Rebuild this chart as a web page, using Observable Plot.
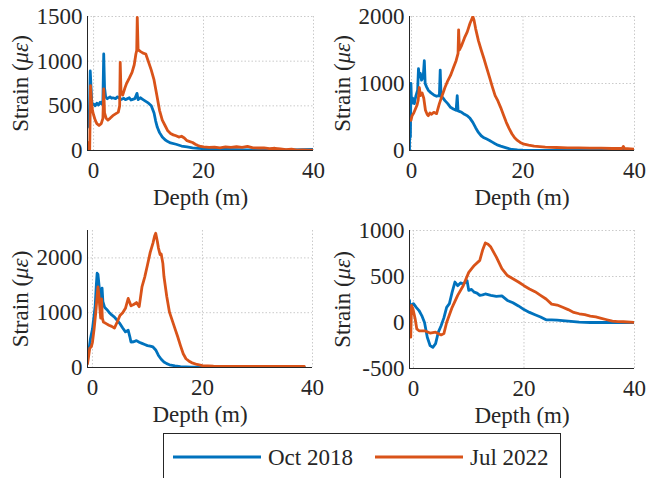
<!DOCTYPE html>
<html><head><meta charset="utf-8">
<script src="https://cdn.jsdelivr.net/npm/d3@7"></script>
<script src="https://cdn.jsdelivr.net/npm/@observablehq/plot@0.6"></script>
<style>
body{margin:0;background:#fff;}
#wrap{position:relative;width:646px;height:478px;overflow:hidden;background:#fff;font-family:"Liberation Serif",serif;}
#wrap > svg{position:absolute;}
#wrap text{font-family:"Liberation Serif",serif;}
</style></head><body><div id="wrap"></div>
<script>
const seriesNames = ["Oct 2018", "Jul 2022"];
const seriesColors = ["#0072BD", "#D95319"];
const xTicks = [0, 20, 40];

// Panel 1 (top-left): [depth m, strain µε]
const p1Oct = [[-1.1,260],[-0.8,300],[-0.6,890],[-0.45,700],[-0.3,510],[0,520],[0.3,500],[0.6,530],[0.9,510],[1.2,540],[1.5,520],[1.7,560],[1.85,1080],[2.0,700],[2.2,600],[2.5,580],[3,600],[3.3,585],[3.5,590],[4,580],[4.3,600],[4.5,595],[5,570],[5.5,585],[5.8,570],[6,575],[6.5,590],[6.8,565],[7,570],[7.5,580],[7.9,640],[8.1,570],[8.5,590],[9,570],[9.5,550],[10,530],[10.5,500],[11,420],[11.3,330],[11.6,260],[12,200],[12.5,150],[13,120],[13.5,100],[14,85],[15,70],[16,50],[17,40],[18,30],[19,25],[20,20],[22,15],[24,12],[26,10],[28,8],[30,8],[32,6],[34,5],[36,8],[38,10],[40,12]];
const p1Jul = [[-1.1,90],[-0.85,20],[-0.7,0],[-0.55,725],[-0.4,560],[-0.2,450],[0,400],[0.3,340],[0.6,300],[1,280],[1.4,300],[1.7,360],[1.85,690],[2.0,420],[2.3,360],[2.6,340],[3,360],[3.5,390],[4,410],[4.5,430],[4.75,500],[4.85,985],[5.0,650],[5.3,620],[5.7,700],[6,750],[6.5,810],[7,875],[7.4,960],[7.7,1080],[7.85,1120],[7.95,1490],[8.1,1130],[8.5,1110],[9,1090],[9.5,1080],[10,990],[10.5,900],[11,790],[11.5,620],[12,450],[12.5,340],[13,280],[13.5,220],[14,190],[14.5,175],[15,165],[15.5,150],[16,160],[16.5,140],[17,110],[17.5,100],[18,90],[18.5,70],[19,55],[19.5,45],[20,40],[21,35],[22,38],[23,30],[24,40],[25,35],[26,42],[27,35],[28,45],[29,30],[30,28],[31,30],[32,22],[33,25],[34,18],[35,10],[36,15],[37,5],[38,8],[39,3],[40,5]];

// Panel 2 (top-right)
const p2Oct = [[-0.36,0],[-0.3,640],[-0.2,200],[-0.1,1000],[0,700],[0.2,780],[0.5,700],[0.8,820],[1.1,900],[1.25,1220],[1.4,1100],[1.6,1150],[1.8,1050],[2.1,1100],[2.3,1340],[2.45,1000],[2.7,950],[3,900],[3.5,860],[4,830],[4.5,810],[5.0,820],[5.15,1200],[5.3,800],[5.6,790],[6,745],[6.5,700],[7,645],[7.5,620],[8,600],[8.2,820],[8.35,590],[8.7,580],[9,570],[9.5,540],[10,520],[10.5,480],[11,420],[11.5,340],[12,270],[12.5,220],[13,190],[13.5,170],[14,150],[14.5,125],[15,100],[15.5,80],[16,65],[17,40],[18,15],[19,8],[20,5],[25,3],[30,2],[35,2],[40,3]];
const p2Jul = [[-0.1,450],[0.1,520],[0.4,560],[0.7,620],[1.0,680],[1.2,750],[1.4,940],[1.6,820],[1.9,860],[2.2,780],[2.5,600],[2.8,540],[3,520],[3.3,560],[3.6,540],[4,570],[4.5,550],[5,700],[5.5,820],[6,940],[6.5,1040],[7,1120],[7.5,1230],[8,1340],[8.35,1450],[8.45,1800],[8.6,1500],[9,1570],[9.5,1680],[10,1770],[10.5,1900],[10.8,1960],[11,2000],[11.2,1950],[11.5,1820],[12,1640],[12.5,1500],[13,1370],[13.5,1230],[14,1090],[14.5,950],[15,820],[15.5,740],[16,640],[16.5,530],[17,420],[17.5,330],[18,250],[18.5,190],[19,150],[19.5,120],[20,100],[21,80],[22,65],[24,50],[26,45],[28,40],[30,38],[32,35],[34,35],[36,30],[37.8,30],[38,60],[38.2,30],[40,20]];

// Panel 3 (bottom-left)
const p3Oct = [[-0.9,190],[-0.6,350],[-0.36,530],[0,700],[0.3,950],[0.5,1130],[0.7,1500],[0.85,1720],[1.0,1700],[1.2,1500],[1.5,1190],[1.65,1300],[1.75,1450],[1.9,1200],[2.2,1100],[2.6,1060],[3,1010],[3.5,960],[4,920],[4.5,860],[5,800],[5.5,720],[6,650],[6.5,680],[6.8,560],[7,465],[7.5,470],[8,490],[8.5,460],[9,440],[9.5,420],[10,400],[10.5,390],[11,375],[11.5,320],[12,220],[12.5,150],[13,100],[13.5,70],[14,50],[15,30],[16,15],[18,8],[20,5],[25,5],[30,5],[35,5],[38.5,5]];
const p3Jul = [[-0.9,70],[-0.7,200],[-0.5,350],[-0.2,380],[0,460],[0.3,700],[0.6,1000],[0.85,1300],[1.0,1470],[1.15,1350],[1.3,1140],[1.5,900],[1.65,1250],[1.8,900],[2,830],[2.5,800],[3,770],[3.5,750],[4,720],[4.5,830],[5,950],[5.5,1000],[6,1080],[6.5,1260],[7,1125],[7.5,1150],[8,1185],[8.5,1110],[9,1470],[9.5,1650],[10,1870],[10.5,2100],[11,2270],[11.3,2400],[11.5,2450],[11.8,2300],[12,2180],[12.3,2060],[12.5,2070],[12.8,1900],[13,1660],[13.5,1300],[14,1010],[14.5,860],[15,710],[15.5,560],[16,400],[16.5,250],[17,160],[17.5,120],[18,90],[19,55],[20,35],[22,25],[25,22],[30,20],[35,20],[38.5,20]];

// Panel 4 (bottom-right)
const p4Oct = [[-0.72,240],[-0.55,75],[-0.4,190],[0,205],[0.5,165],[1,130],[1.5,75],[2,0],[2.5,-160],[3,-250],[3.5,-270],[4,-230],[4.5,-105],[5,-35],[5.5,50],[6,165],[6.5,205],[7,330],[7.5,440],[8,400],[8.5,430],[9,420],[9.7,455],[10,350],[10.5,360],[11,330],[11.5,320],[12,295],[12.5,300],[13,310],[14,295],[15,285],[16,290],[17,240],[18,215],[19,180],[20,140],[21,110],[22,85],[23,60],[24,30],[25,28],[26,25],[28,15],[30,5],[32,0],[35,0],[38,0],[40,0]];
const p4Jul = [[-0.72,-160],[-0.5,-160],[-0.35,185],[-0.1,150],[0.3,40],[0.6,-70],[1,-90],[2,-90],[3,-115],[4,-105],[5,-135],[5.5,-120],[6,0],[7,165],[8,295],[9,400],[10,545],[11,620],[12,675],[12.5,785],[13,865],[13.5,850],[14,820],[15,710],[16,585],[17,510],[18,475],[19,440],[20,400],[21,365],[22,335],[23,295],[24,255],[25,200],[26,190],[27,165],[28,140],[29,110],[30,95],[31,85],[32,70],[33,60],[34,45],[35,30],[36,15],[37,10],[38,8],[40,0]];

const p1YTicks = [0, 500, 1000, 1500];
const p2YTicks = [0, 1000, 2000];
const p3YTicks = [0, 1000, 2000];
const p4YTicks = [-500, 0, 500, 1000];

const panels = [
  {oct: p1Oct, jul: p1Jul, xDomain: [-1.1, 40], yDomain: [0, 1500], yTicks: p1YTicks,
   left: 0, top: 0, w: 323, h: 215, ml: 87, mr: 10, mt: 16, mb: 65},
  {oct: p2Oct, jul: p2Jul, xDomain: [-0.36, 40], yDomain: [0, 2000], yTicks: p2YTicks,
   left: 323, top: 0, w: 323, h: 215, ml: 86, mr: 12, mt: 16, mb: 65},
  {oct: p3Oct, jul: p3Jul, xDomain: [-0.9, 40], yDomain: [0, 2500], yTicks: p3YTicks,
   left: 0, top: 215, w: 323, h: 263, ml: 87, mr: 11, mt: 15, mb: 111},
  {oct: p4Oct, jul: p4Jul, xDomain: [-0.72, 40], yDomain: [-500, 1000], yTicks: p4YTicks,
   left: 323, top: 215, w: 323, h: 263, ml: 86, mr: 12, mt: 15, mb: 110}
];

const wrap = document.getElementById("wrap");
const FONT = "Liberation Serif, serif";
const ink = "#262626";
const gridStyle = {stroke: "#c4c4c4", strokeOpacity: 1, strokeWidth: 0.9, strokeDasharray: "1.5,2"};
const fmt = d => String(d);
const FS = 23;

for (const c of panels) {
  const toRows = (arr) => arr.map(([d, s]) => ({depth: d, strain: s}));
  const svg = Plot.plot({
    width: c.w, height: c.h,
    marginLeft: c.ml, marginRight: c.mr, marginTop: c.mt, marginBottom: c.mb,
    style: {background: "transparent", overflow: "visible", fontFamily: FONT, color: ink},
    x: {domain: c.xDomain},
    y: {domain: c.yDomain},
    marks: [
      Plot.gridX({ticks: xTicks, ...gridStyle}),
      Plot.gridY({ticks: c.yTicks, ...gridStyle}),
      Plot.line(toRows(c.oct), {x: "depth", y: "strain", stroke: seriesColors[0], strokeWidth: 2.8, clip: true}),
      Plot.line(toRows(c.jul), {x: "depth", y: "strain", stroke: seriesColors[1], strokeWidth: 2.8, clip: true}),
      Plot.ruleX([c.xDomain[0]], {stroke: ink, strokeWidth: 1}),
      Plot.ruleY([c.yDomain[0]], {stroke: ink, strokeWidth: 1}),
      Plot.axisX({ticks: xTicks, tickFormat: fmt, tickSize: 0, tickPadding: 11, label: null, fontSize: FS, fontFamily: FONT, fill: ink}),
      Plot.axisY({ticks: c.yTicks, tickFormat: fmt, tickSize: 0, tickPadding: 5, label: null, fontSize: FS, fontFamily: FONT, fill: ink}),
      Plot.text(["Depth (m)"], {text: d => d, frameAnchor: "bottom", dy: 47, lineAnchor: "middle", textAnchor: "middle", fontSize: FS, fontFamily: FONT, fill: ink}),
      Plot.text(["Strain (με)"], {text: d => d, frameAnchor: "left", dx: -67, rotate: -90, lineAnchor: "middle", textAnchor: "middle", fontSize: FS, fontFamily: FONT, fill: ink})
    ]
  });
  svg.style.left = c.left + "px";
  svg.style.top = c.top + "px";
  svg.querySelectorAll("text").forEach(t => {
    if (t.textContent === "Strain (με)") {
      t.textContent = "";
      const ns = "http://www.w3.org/2000/svg";
      const a = document.createElementNS(ns, "tspan"); a.textContent = "Strain (";
      const b = document.createElementNS(ns, "tspan"); b.textContent = "με"; b.setAttribute("font-style", "italic");
      const cc = document.createElementNS(ns, "tspan"); cc.textContent = ")";
      t.append(a, b, cc);
    }
  });
  wrap.appendChild(svg);
}

// Legend
const ns = "http://www.w3.org/2000/svg";
const leg = document.createElementNS(ns, "svg");
leg.setAttribute("width", 400); leg.setAttribute("height", 46);
leg.style.left = "163px"; leg.style.top = "433px";
leg.innerHTML = `<rect x="0.5" y="0.5" width="397" height="70" fill="#fff" stroke="${ink}" stroke-width="1"/>`;
const legX = [[10, 105], [212, 307]];
seriesNames.forEach((name, i) => {
  const ln = document.createElementNS(ns, "line");
  ln.setAttribute("x1", legX[i][0]); ln.setAttribute("x2", legX[i][0] + 88);
  ln.setAttribute("y1", 24); ln.setAttribute("y2", 24);
  ln.setAttribute("stroke", seriesColors[i]); ln.setAttribute("stroke-width", 2.8);
  const tx = document.createElementNS(ns, "text");
  tx.setAttribute("x", legX[i][1]); tx.setAttribute("y", 32);
  tx.setAttribute("font-family", FONT); tx.setAttribute("font-size", 23); tx.setAttribute("fill", ink);
  tx.textContent = name;
  leg.append(ln, tx);
});
wrap.appendChild(leg);
</script></body></html>
